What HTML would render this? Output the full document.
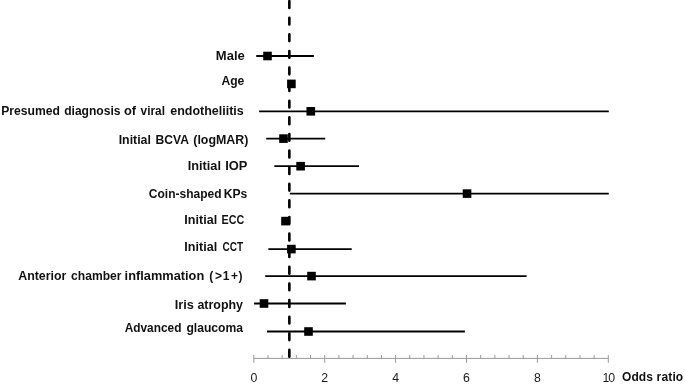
<!DOCTYPE html>
<html><head><meta charset="utf-8"><style>
html,body{margin:0;padding:0;background:#fff;}
svg{display:block;will-change:transform;}
.b{font-family:"Liberation Sans",sans-serif;font-weight:bold;font-size:12px;fill:#111;}
.t{font-family:"Liberation Sans",sans-serif;font-size:12.3px;fill:#1a1a1a;}
</style></head><body>
<svg width="685" height="385" viewBox="0 0 685 385">
<line x1="253.8" y1="358.4" x2="608.3" y2="358.4" stroke="#999" stroke-width="1"/>
<line x1="253.80" y1="355" x2="253.80" y2="362.8" stroke="#999" stroke-width="1"/>
<line x1="267.98" y1="355" x2="267.98" y2="358.4" stroke="#999" stroke-width="1"/>
<line x1="282.16" y1="355" x2="282.16" y2="358.4" stroke="#999" stroke-width="1"/>
<line x1="296.34" y1="355" x2="296.34" y2="358.4" stroke="#999" stroke-width="1"/>
<line x1="310.52" y1="355" x2="310.52" y2="358.4" stroke="#999" stroke-width="1"/>
<line x1="324.70" y1="355" x2="324.70" y2="362.8" stroke="#999" stroke-width="1"/>
<line x1="338.88" y1="355" x2="338.88" y2="358.4" stroke="#999" stroke-width="1"/>
<line x1="353.06" y1="355" x2="353.06" y2="358.4" stroke="#999" stroke-width="1"/>
<line x1="367.24" y1="355" x2="367.24" y2="358.4" stroke="#999" stroke-width="1"/>
<line x1="381.42" y1="355" x2="381.42" y2="358.4" stroke="#999" stroke-width="1"/>
<line x1="395.60" y1="355" x2="395.60" y2="362.8" stroke="#999" stroke-width="1"/>
<line x1="409.78" y1="355" x2="409.78" y2="358.4" stroke="#999" stroke-width="1"/>
<line x1="423.96" y1="355" x2="423.96" y2="358.4" stroke="#999" stroke-width="1"/>
<line x1="438.14" y1="355" x2="438.14" y2="358.4" stroke="#999" stroke-width="1"/>
<line x1="452.32" y1="355" x2="452.32" y2="358.4" stroke="#999" stroke-width="1"/>
<line x1="466.50" y1="355" x2="466.50" y2="362.8" stroke="#999" stroke-width="1"/>
<line x1="480.68" y1="355" x2="480.68" y2="358.4" stroke="#999" stroke-width="1"/>
<line x1="494.86" y1="355" x2="494.86" y2="358.4" stroke="#999" stroke-width="1"/>
<line x1="509.04" y1="355" x2="509.04" y2="358.4" stroke="#999" stroke-width="1"/>
<line x1="523.22" y1="355" x2="523.22" y2="358.4" stroke="#999" stroke-width="1"/>
<line x1="537.40" y1="355" x2="537.40" y2="362.8" stroke="#999" stroke-width="1"/>
<line x1="551.58" y1="355" x2="551.58" y2="358.4" stroke="#999" stroke-width="1"/>
<line x1="565.76" y1="355" x2="565.76" y2="358.4" stroke="#999" stroke-width="1"/>
<line x1="579.94" y1="355" x2="579.94" y2="358.4" stroke="#999" stroke-width="1"/>
<line x1="594.12" y1="355" x2="594.12" y2="358.4" stroke="#999" stroke-width="1"/>
<line x1="608.30" y1="355" x2="608.30" y2="362.8" stroke="#999" stroke-width="1"/>
<text x="253.80" y="381.7" text-anchor="middle" class="t">0</text>
<text x="324.70" y="381.7" text-anchor="middle" class="t">2</text>
<text x="395.60" y="381.7" text-anchor="middle" class="t">4</text>
<text x="466.50" y="381.7" text-anchor="middle" class="t">6</text>
<text x="537.40" y="381.7" text-anchor="middle" class="t">8</text>
<text x="608.80" y="381.7" text-anchor="middle" class="t" textLength="12.6">10</text>
<text x="621.9" y="380.8" class="b" textLength="61.3">Odds ratio</text>
<line x1="289.35" y1="1.1" x2="289.35" y2="358" stroke="#000" stroke-width="2.6" stroke-linecap="round" stroke-dasharray="6.8 9.81"/>
<text x="215.82" y="59.6" class="b" textLength="28.93" lengthAdjust="spacingAndGlyphs">Male</text>
<line x1="256.3" y1="56.00" x2="313.9" y2="56.00" stroke="#000" stroke-width="1.8"/>
<rect x="263.20" y="51.70" width="8.6" height="8.6" fill="#000"/>
<text x="221.40" y="84.7" class="b" textLength="22.88" lengthAdjust="spacingAndGlyphs">Age</text>
<rect x="287.10" y="79.60" width="8.6" height="8.6" fill="#000"/>
<text x="1.19" y="114.9" class="b" textLength="58.65" lengthAdjust="spacingAndGlyphs">Presumed</text>
<text x="64.20" y="114.9" class="b" textLength="56.32" lengthAdjust="spacingAndGlyphs">diagnosis</text>
<text x="123.90" y="114.9" class="b" textLength="12.15" lengthAdjust="spacingAndGlyphs">of</text>
<text x="140.60" y="114.9" class="b" textLength="24.38" lengthAdjust="spacingAndGlyphs">viral</text>
<text x="170.20" y="114.9" class="b" textLength="73.60" lengthAdjust="spacingAndGlyphs">endotheliitis</text>
<line x1="259.1" y1="111.30" x2="608.8" y2="111.30" stroke="#000" stroke-width="1.8"/>
<rect x="306.50" y="107.00" width="8.6" height="8.6" fill="#000"/>
<text x="118.67" y="144.2" class="b" textLength="32.28" lengthAdjust="spacingAndGlyphs">Initial</text>
<text x="155.49" y="144.2" class="b" textLength="33.44" lengthAdjust="spacingAndGlyphs">BCVA</text>
<text x="193.27" y="144.2" class="b" textLength="55.17" lengthAdjust="spacingAndGlyphs">(logMAR)</text>
<line x1="266.2" y1="138.60" x2="325.2" y2="138.60" stroke="#000" stroke-width="1.8"/>
<rect x="279.20" y="134.30" width="8.6" height="8.6" fill="#000"/>
<text x="187.74" y="169.8" class="b" textLength="33.22" lengthAdjust="spacingAndGlyphs">Initial</text>
<text x="225.23" y="169.8" class="b" textLength="22.20" lengthAdjust="spacingAndGlyphs">IOP</text>
<line x1="274.3" y1="166.20" x2="359.0" y2="166.20" stroke="#000" stroke-width="1.8"/>
<rect x="296.30" y="161.90" width="8.6" height="8.6" fill="#000"/>
<text x="148.80" y="198.0" class="b" textLength="72.77" lengthAdjust="spacingAndGlyphs">Coin-shaped</text>
<text x="223.69" y="198.0" class="b" textLength="23.56" lengthAdjust="spacingAndGlyphs">KPs</text>
<line x1="289.9" y1="193.60" x2="608.8" y2="193.60" stroke="#000" stroke-width="1.8"/>
<rect x="462.75" y="189.30" width="8.6" height="8.6" fill="#000"/>
<text x="184.35" y="224.4" class="b" textLength="32.81" lengthAdjust="spacingAndGlyphs">Initial</text>
<text x="221.50" y="224.4" class="b" textLength="22.70" lengthAdjust="spacingAndGlyphs">ECC</text>
<rect x="281.20" y="216.80" width="8.6" height="8.6" fill="#000"/>
<text x="184.35" y="251.2" class="b" textLength="32.81" lengthAdjust="spacingAndGlyphs">Initial</text>
<text x="222.40" y="251.2" class="b" textLength="20.63" lengthAdjust="spacingAndGlyphs">CCT</text>
<line x1="268.3" y1="249.10" x2="351.7" y2="249.10" stroke="#000" stroke-width="1.8"/>
<rect x="287.10" y="244.80" width="8.6" height="8.6" fill="#000"/>
<text x="18.20" y="280.1" class="b" textLength="48.16" lengthAdjust="spacingAndGlyphs">Anterior</text>
<text x="71.10" y="280.1" class="b" textLength="50.43" lengthAdjust="spacingAndGlyphs">chamber</text>
<text x="124.63" y="280.1" class="b" textLength="79.58" lengthAdjust="spacingAndGlyphs">inflammation</text>
<text x="209.20" y="280.1" class="b">(</text>
<text x="215.00" y="280.1" class="b">&gt;</text>
<text x="222.70" y="280.1" class="b">1</text>
<text x="231.00" y="280.1" class="b">+</text>
<text x="238.50" y="280.1" class="b">)</text>
<line x1="265.2" y1="276.10" x2="526.6" y2="276.10" stroke="#000" stroke-width="1.8"/>
<rect x="307.20" y="271.80" width="8.6" height="8.6" fill="#000"/>
<text x="174.74" y="308.6" class="b" textLength="19.14" lengthAdjust="spacingAndGlyphs">Iris</text>
<text x="197.40" y="308.6" class="b" textLength="45.62" lengthAdjust="spacingAndGlyphs">atrophy</text>
<line x1="254.1" y1="303.50" x2="345.9" y2="303.50" stroke="#000" stroke-width="1.8"/>
<rect x="259.70" y="299.20" width="8.6" height="8.6" fill="#000"/>
<text x="124.70" y="332.2" class="b" textLength="56.76" lengthAdjust="spacingAndGlyphs">Advanced</text>
<text x="186.40" y="332.2" class="b" textLength="56.62" lengthAdjust="spacingAndGlyphs">glaucoma</text>
<line x1="267.0" y1="331.50" x2="464.9" y2="331.50" stroke="#000" stroke-width="1.8"/>
<rect x="304.20" y="327.20" width="8.6" height="8.6" fill="#000"/>
</svg>
</body></html>
